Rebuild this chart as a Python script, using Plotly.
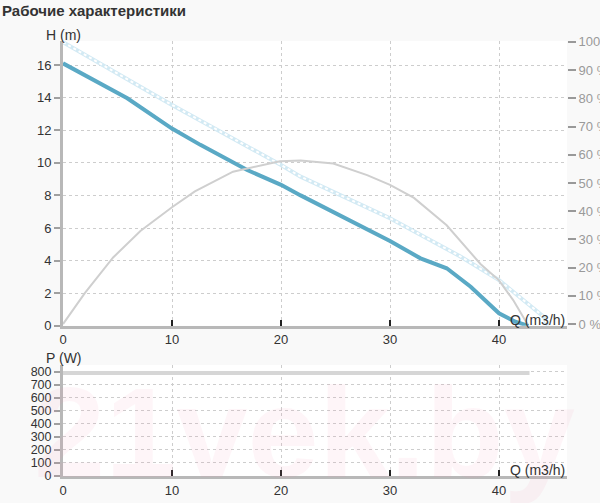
import plotly.graph_objects as go

# ---- data ----
q_head = [0, 5.9, 10, 11.7, 12.6, 16.9, 20, 21.8, 24.8, 30, 32.8, 35.2, 37.4, 40, 41.5, 42.7]
head_m = [16.1, 13.96, 12.1, 11.4, 11.1, 9.56, 8.65, 8.0, 7.0, 5.2, 4.14, 3.53, 2.4, 0.77, 0.25, 0.0]

q_max = [0, 10, 20, 21.8, 30, 36.5, 40, 44.1, 44.5]
head_max = [17.4, 13.55, 9.87, 9.15, 6.6, 4.24, 2.8, 0.56, 0.0]

q_eff = [0, 2, 4.6, 7.1, 10, 10.8, 12.1, 15.6, 19.9, 21.8, 24.8, 27.9, 30, 32.2, 35.2, 38.3, 40, 41.3, 42.6]
eff_pct = [0, 11, 23.6, 33, 41.4, 43.5, 47, 54, 57.7, 58, 56.9, 52.8, 49.3, 44.7, 35, 21.3, 15.5, 8.5, 0]

q_power = [0, 42.8]
power_w = [790, 790]

x_ticks = [0, 10, 20, 30, 40]
h_ticks = [0, 2, 4, 6, 8, 10, 12, 14, 16]
pct_ticks = [0, 10, 20, 30, 40, 50, 60, 70, 80, 90, 100]
pct_labels = [f"{v} %" for v in pct_ticks]
p_ticks = [0, 100, 200, 300, 400, 500, 600, 700, 800]

title_text = "Рабочие характеристики"
watermark = "21vek.by"

# ---- geometry ----
W, H = 600, 503
ML, MR, MT, MB = 63, 33, 41, 27
PW, PH = W - ML - MR, H - MT - MB


def px(x):
    return (x - ML) / PW


def py(y):
    return (H - MB - y) / PH


FONT = "Liberation Sans, Arial, sans-serif"

fig = go.Figure()

# efficiency (right axis)
fig.add_trace(go.Scatter(x=q_eff, y=eff_pct, mode="lines", yaxis="y2", xaxis="x",
                         line=dict(color="#cfcfcf", width=2), hoverinfo="skip"))
# max curve (dotted light blue)
fig.add_trace(go.Scatter(x=q_max, y=head_max, mode="lines", xaxis="x", yaxis="y",
                         line=dict(color="#d3eaf4", width=4), hoverinfo="skip"))
fig.add_trace(go.Scatter(x=q_max, y=head_max, mode="lines", xaxis="x", yaxis="y",
                         line=dict(color="#ffffff", width=2, dash="dot"), hoverinfo="skip"))
# head curve
fig.add_trace(go.Scatter(x=q_head, y=head_m, mode="lines", xaxis="x", yaxis="y",
                         line=dict(color="#5aa9c5", width=4), hoverinfo="skip"))
# power
fig.add_trace(go.Scatter(x=q_power, y=power_w, mode="lines", xaxis="x2", yaxis="y3",
                         line=dict(color="#d6d6d6", width=4), hoverinfo="skip"))

grid = dict(showgrid=True, gridcolor="#cdcdcd", gridwidth=1, griddash="dot")
xcommon = dict(range=[0, PW / 10.9], tickvals=x_ticks, ticks="inside", ticklen=6,
               tickwidth=2, tickcolor="#222", showline=True, linecolor="#b8b8b8",
               linewidth=3, zeroline=False, fixedrange=True, automargin=False,
               tickfont=dict(family=FONT, size=13, color="#333"), **grid)
ycommon = dict(ticks="outside", ticklen=6, tickwidth=2, tickcolor="#a0a0a0",
               showline=True, linecolor="#b8b8b8", linewidth=3, zeroline=False,
               automargin=False, fixedrange=True, **grid)

top_bottom = py(325.8)
bot_top = py(365)

fig.update_layout(
    width=W, height=H, autosize=False,
    margin=dict(l=ML, r=MR, t=MT, b=MB),
    paper_bgcolor="#f9f9f9", plot_bgcolor="#ffffff",
    showlegend=False,
    xaxis=dict(domain=[0, 1], anchor="y", **xcommon),
    yaxis=dict(domain=[top_bottom, 1], range=[0, 284.8 / 16.3], tickvals=h_ticks,
               tickfont=dict(family=FONT, size=13, color="#333"), **ycommon),
    yaxis2=dict(overlaying="y", side="right", anchor="x", range=[-0.6, 100.3],
                tickvals=pct_ticks, ticktext=pct_labels, ticks="outside", ticklen=8,
                tickwidth=1.5, tickcolor="#999", showline=False, showgrid=False,
                zeroline=False, fixedrange=True, automargin=False,
                tickfont=dict(family=FONT, size=13, color="#9a9a9a")),
    xaxis2=dict(domain=[0, 1], anchor="y3", **xcommon),
    yaxis3=dict(domain=[0, bot_top], range=[0, 851], tickvals=p_ticks,
                tickfont=dict(family=FONT, size=12.5, color="#333"), **ycommon),
)

ann = dict(xref="paper", yref="paper", showarrow=False,
           font=dict(family=FONT, size=14, color="#333"))

# watermark
fig.add_annotation(text="<b>" + watermark + "</b>", x=px(304), y=py(432),
                   xanchor="center", yanchor="middle", xref="paper", yref="paper",
                   showarrow=False,
                   font=dict(family=FONT, size=128, color="rgba(240,140,175,0.09)"))

fig.add_annotation(text="<b>" + title_text + "</b>", x=px(0), y=py(0), xanchor="left", yanchor="top",
                   **{**ann, "font": dict(family=FONT, size=15, color="#333")})
fig.add_annotation(text="H (m)", x=px(44), y=py(35), xanchor="left", yanchor="middle", **ann)
fig.add_annotation(text="P (W)", x=px(44), y=py(358), xanchor="left", yanchor="middle", **ann)
fig.add_annotation(text="Q (m3/h)", x=px(567), y=py(320), xanchor="right", yanchor="middle", **ann)
fig.add_annotation(text="Q (m3/h)", x=px(567), y=py(470), xanchor="right", yanchor="middle", **ann)

fig.write_html("out.html", config={"displayModeBar": False},
               post_script="document.body.style.margin='0';document.body.style.overflow='hidden';")
